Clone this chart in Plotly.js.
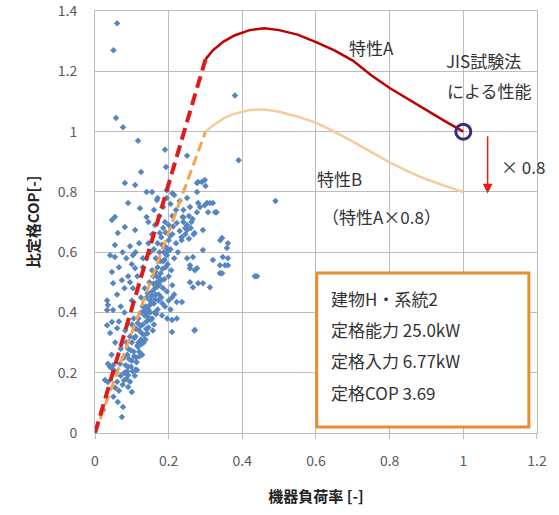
<!DOCTYPE html>
<html><head><meta charset="utf-8">
<script src="https://cdn.plot.ly/plotly-3.0.1.min.js"></script>
<style>html,body{margin:0;padding:0;background:#fff;}</style>
</head><body>
<div id="chart" style="width:559px;height:515px;"></div>
<script>
// measured points: [load ratio, COP ratio]
const measured = [
[0.06,1.36],[0.05,1.27],[0.057,1.045],[0.076,1.015],[0.117,0.97],[0.19,0.94],[0.25,0.92],
[0.38,1.12],[0.39,0.905],[0.49,0.77],[0.434,0.52],[0.27,0.34],
[0.081,0.83],[0.109,0.823],[0.125,0.866],[0.193,0.883],[0.28,0.833],[0.298,0.84],
[0.14,0.80],[0.155,0.80],[0.09,0.763],[0.054,0.717],[0.046,0.707],[0.062,0.664],[0.122,0.746],
[0.168,0.773],[0.195,0.806],[0.21,0.796],[0.277,0.80],[0.304,0.763],[0.33,0.733],[0.32,0.763],
[0.285,0.75],[0.258,0.75],[0.238,0.717],[0.34,0.64],[0.358,0.614],[0.054,0.624],[0.081,0.684],
[0.109,0.674],[0.14,0.717],[0.163,0.69],[0.176,0.664],[0.222,0.697],[0.25,0.674],[0.27,0.664],
[0.293,0.674],[0.29,0.833],[0.30,0.82],[0.277,0.83],[0.28,0.763],[0.298,0.756],[0.312,0.763],
[0.277,0.733],[0.307,0.733],[0.326,0.733],[0.345,0.647],[0.361,0.63],[0.293,0.607],[0.266,0.584],
[0.32,0.574],[0.347,0.584],[0.361,0.58],[0.339,0.557],[0.353,0.557],[0.258,0.557],[0.271,0.54],
[0.345,0.53],[0.258,0.50],[0.28,0.497],[0.293,0.497],[0.312,0.484],[0.266,0.484],
[0.235,0.65],[0.245,0.68],[0.255,0.645],[0.262,0.70],[0.24,0.715],[0.268,0.66],
[0.046,0.534],[0.073,0.507],[0.049,0.497],[0.033,0.44],[0.035,0.425],[0.049,0.408],[0.046,0.368],
[0.06,0.348],[0.041,0.332],[0.095,0.50],[0.109,0.547],[0.13,0.55],[0.103,0.48],[0.25,0.58],
[0.258,0.547],[0.277,0.547],[0.209,0.45],[0.222,0.435],[0.236,0.435],[0.209,0.375],[0.222,0.38],
[0.271,0.342],[0.209,0.335],[0.041,0.59],[0.054,0.584],[0.103,0.59],
[0.033,0.408],[0.033,0.358],[0.041,0.219],[0.049,0.225],[0.035,0.169],[0.027,0.176],[0.022,0.076],
[0.062,0.103],[0.073,0.053],[0.076,0.086],[0.10,0.136],[0.09,0.153],[0.09,0.192],[0.114,0.209],
[0.339,0.53],[0.361,0.557],[0.44,0.52],
[0.05,0.12],[0.055,0.15],[0.06,0.17],[0.065,0.14],[0.07,0.19],[0.075,0.16],[0.08,0.20],[0.085,0.18],
[0.09,0.22],[0.058,0.20],[0.068,0.23],[0.095,0.17],[0.10,0.24],[0.078,0.25],[0.088,0.26],[0.11,0.21],
[0.09,0.28],[0.10,0.30],[0.105,0.27],[0.11,0.32],[0.115,0.29],[0.12,0.34],[0.125,0.31],[0.13,0.36],
[0.095,0.32],[0.108,0.35],[0.118,0.38],[0.128,0.33],[0.135,0.39],[0.14,0.37],[0.145,0.35],[0.15,0.40],
[0.12,0.27],[0.132,0.30],[0.112,0.25],[0.10,0.36],[0.138,0.42],[0.155,0.38],[0.16,0.36],[0.142,0.33],
[0.125,0.40],[0.105,0.38],[0.085,0.30],[0.082,0.34],
[0.13,0.42],[0.14,0.45],[0.145,0.41],[0.15,0.44],[0.155,0.47],[0.16,0.43],[0.165,0.46],[0.17,0.41],
[0.175,0.49],[0.18,0.45],[0.185,0.48],[0.19,0.42],[0.148,0.50],[0.158,0.52],[0.168,0.50],[0.178,0.53],
[0.188,0.51],[0.195,0.47],[0.20,0.44],[0.135,0.48],[0.125,0.45],[0.172,0.44],[0.162,0.40],[0.182,0.39],
[0.196,0.38],[0.205,0.41],[0.192,0.55],[0.17,0.55],[0.155,0.54],[0.20,0.52],[0.21,0.49],[0.215,0.46],
[0.165,0.58],[0.175,0.60],[0.185,0.57],[0.19,0.62],[0.195,0.59],[0.20,0.64],[0.205,0.61],[0.21,0.66],
[0.215,0.58],[0.22,0.63],[0.18,0.65],[0.17,0.63],[0.16,0.61],[0.225,0.60],[0.23,0.67],[0.235,0.64],
[0.24,0.70],[0.245,0.66],[0.25,0.69],[0.20,0.69],[0.21,0.72],[0.19,0.70],[0.22,0.74],[0.185,0.68],
[0.255,0.72],[0.26,0.68],[0.265,0.71],[0.175,0.72],[0.15,0.60],[0.14,0.58],[0.145,0.63],[0.155,0.66],
[0.205,0.76],[0.215,0.79],[0.195,0.78],[0.185,0.75],[0.23,0.77],
[0.16,0.74],[0.17,0.78],[0.24,0.74],[0.25,0.78],[0.145,0.70],
[0.06,0.46],[0.07,0.42],[0.08,0.48],[0.065,0.55],[0.085,0.58],[0.095,0.62],[0.075,0.60],[0.10,0.56],
[0.11,0.60],[0.12,0.63],[0.13,0.58],[0.115,0.52],[0.09,0.52],[0.08,0.40],[0.10,0.44],[0.065,0.37],
[0.055,0.30],[0.07,0.28],[0.045,0.26],[0.05,0.21],[0.035,0.23],
[0.152,0.43],[0.163,0.48],[0.173,0.46],[0.183,0.43],[0.147,0.38],[0.157,0.34],[0.137,0.31],[0.167,0.52],
[0.177,0.57],[0.187,0.60],[0.197,0.56],[0.207,0.54],[0.118,0.30],[0.128,0.26],[0.098,0.22],[0.108,0.19],
[0.113,0.235],[0.121,0.255],[0.117,0.285],[0.127,0.295],[0.133,0.325],[0.124,0.355],[0.139,0.345],[0.143,0.385],
[0.134,0.405],[0.149,0.425],[0.153,0.455],[0.143,0.465],[0.159,0.495],[0.163,0.445],[0.169,0.485],[0.174,0.515],
[0.179,0.505],[0.164,0.535],[0.184,0.545],[0.189,0.575],[0.174,0.575],[0.194,0.615],[0.182,0.625],[0.199,0.605],
[0.204,0.655],[0.192,0.665],[0.212,0.685],[0.151,0.375],[0.166,0.395],[0.141,0.395],[0.102,0.205],[0.093,0.245],
[0.106,0.255],[0.083,0.225],[0.087,0.205],[0.079,0.175],[0.097,0.275],[0.107,0.315],[0.111,0.345],[0.116,0.365]
];
const loadRatio = measured.map(p => p[0]);
const copRatio = measured.map(p => p[1]);

// 特性A
const curveAx = [0.3,0.32,0.35,0.38,0.42,0.46,0.5,0.55,0.6,0.65,0.7,0.75,0.8,0.85,0.9,0.95,1.0];
const curveAy = [1.24,1.27,1.30,1.32,1.337,1.343,1.337,1.322,1.297,1.27,1.236,1.187,1.145,1.108,1.071,1.035,1.0];
const dashAx = [0, 0.3];
const dashAy = [0, 1.24];
// 特性B
const curveBx = [0.3,0.32,0.35,0.38,0.42,0.46,0.5,0.55,0.6,0.65,0.7,0.75,0.8,0.85,0.9,0.95,1.0];
const curveBy = [1.0,1.02,1.045,1.06,1.072,1.074,1.066,1.05,1.03,1.0,0.967,0.932,0.898,0.868,0.842,0.82,0.8];
const dashBx = [0, 0.3];
const dashBy = [0, 1.0];
// JIS point
const jisX = [1.0];
const jisY = [1.0];

const xTicks = [0, 0.2, 0.4, 0.6, 0.8, 1, 1.2];
const yTicks = [0, 0.2, 0.4, 0.6, 0.8, 1, 1.2, 1.4];
const infoLines = ['建物H・系統2', '定格能力 25.0kW', '定格入力 6.77kW', '定格COP 3.69'];
const infoLineY = [0.448, 0.345, 0.242, 0.136];

const FONT = '"Noto Sans CJK JP", "Noto Sans", sans-serif';

const traces = [
  {x: loadRatio, y: copRatio, type: 'scatter', mode: 'markers',
   marker: {symbol: 'diamond', size: 5, color: '#5685c0'}, hoverinfo: 'skip'},
  {x: dashBx, y: dashBy, type: 'scatter', mode: 'lines',
   line: {color: '#f0a458', width: 3, dash: '10px,5px'}},
  {x: curveBx, y: curveBy, type: 'scatter', mode: 'lines', line: {color: '#f7c99b', width: 2.5}},
  {x: dashAx, y: dashAy, type: 'scatter', mode: 'lines',
   line: {color: '#dd1c1c', width: 4, dash: '12px,6px'}},
  {x: curveAx, y: curveAy, type: 'scatter', mode: 'lines', line: {color: '#c00000', width: 2.5}},
  {x: jisX, y: jisY, type: 'scatter', mode: 'markers',
   marker: {symbol: 'circle-open', size: 15, color: '#3c2a7a', line: {width: 3, color: '#3c2a7a'}}}
];

const annFont = {family: FONT, size: 17, color: '#333333'};
const annotations = [
  {x: 0.752, y: 1.28, xref: 'x', yref: 'y', text: '特性A', showarrow: false, font: annFont},
  {x: 1.055, y: 1.237, xref: 'x', yref: 'y', text: 'JIS試験法', showarrow: false, font: annFont},
  {x: 1.072, y: 1.138, xref: 'x', yref: 'y', text: 'による性能', showarrow: false, font: annFont},
  {x: 0.665, y: 0.846, xref: 'x', yref: 'y', text: '特性B', showarrow: false, font: annFont},
  {x: 0.779, y: 0.717, xref: 'x', yref: 'y', text: '（特性A×0.8）', showarrow: false, font: annFont},
  {x: 1.098, y: 0.883, xref: 'x', yref: 'y', text: '× 0.8', xanchor: 'left', showarrow: false, font: annFont},
  {x: 1.066, y: 0.795, ax: 1.066, ay: 0.99, xref: 'x', yref: 'y', axref: 'x', ayref: 'y',
   text: '', showarrow: true, arrowhead: 2, arrowsize: 1.3, arrowwidth: 1.5, arrowcolor: '#e0201a'}
];
infoLines.forEach((t, i) => annotations.push({
  x: 0.635, y: infoLineY[i], xref: 'x', yref: 'y', xanchor: 'left', yanchor: 'middle',
  text: t, showarrow: false, font: annFont
}));

const layout = {
  width: 559, height: 515,
  margin: {l: 95, r: 22, t: 11, b: 82},
  paper_bgcolor: '#ffffff', plot_bgcolor: '#ffffff',
  showlegend: false,
  font: {family: FONT},
  xaxis: {
    range: [0, 1.2001], tickvals: xTicks, ticktext: xTicks.map(String),
    showgrid: true, gridcolor: '#bdbdbd', gridwidth: 1,
    showline: true, linecolor: '#bdbdbd', mirror: true, zeroline: false,
    ticks: 'outside', ticklen: 5, tickcolor: '#bdbdbd',
    ticklabelstandoff: 10,
    tickfont: {family: FONT, size: 14, color: '#5a5a5a'},
    title: {text: '<b>機器負荷率 [-]</b>', font: {family: FONT, size: 15, color: '#222'}, standoff: 22}
  },
  yaxis: {
    range: [0, 1.4005], tickvals: yTicks, ticktext: yTicks.map(String),
    showgrid: true, gridcolor: '#bdbdbd', gridwidth: 1,
    showline: true, linecolor: '#bdbdbd', mirror: true, zeroline: false,
    ticks: '', ticklabelstandoff: 14,
    tickfont: {family: FONT, size: 14, color: '#5a5a5a'},
    title: {text: '<b>比定格COP[-]</b>', font: {family: FONT, size: 15, color: '#222'}, standoff: 14}
  },
  shapes: [
    {type: 'rect', xref: 'x', yref: 'y', x0: 0.602, x1: 1.178, y0: 0.02, y1: 0.531,
     line: {color: '#ec8c32', width: 3}, fillcolor: '#ffffff', layer: 'above'}
  ],
  annotations: annotations
};

Plotly.newPlot('chart', traces, layout, {displayModeBar: false, staticPlot: true});
</script>
</body></html>
